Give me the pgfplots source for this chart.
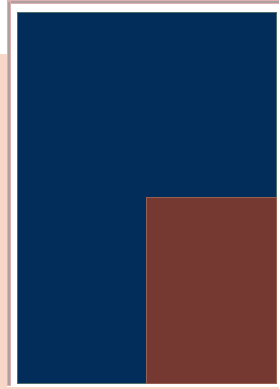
\documentclass[border=0pt]{standalone}
\usepackage{pgfplots}
\pgfplotsset{compat=1.18}
\definecolor{navy}{RGB}{2,45,90}
\definecolor{rust}{RGB}{118,57,49}
\definecolor{peach}{RGB}{248,214,200}
\definecolor{frame}{RGB}{172,160,160}
\definecolor{pinkedge}{RGB}{222,176,176}
\definecolor{navyedge}{RGB}{80,110,105}
\definecolor{rustedge}{RGB}{150,95,80}
\begin{document}
\begin{tikzpicture}
\begin{axis}[
  width=278bp, height=389bp, scale only axis,
  xmin=0, xmax=278, ymin=0, ymax=389, y dir=reverse,
  hide axis, enlargelimits=false, clip=true,
]
% left peach strip
\addplot[fill=peach, draw=none, mark=none] coordinates {(0,56) (7,56) (7,389) (0,389)} -- cycle;
% bottom peach strip
\addplot[fill=peach, draw=none, mark=none] coordinates {(7,387) (278,387) (278,389) (7,389)} -- cycle;
% white background
\addplot[fill=white, draw=none, mark=none] coordinates {(7,3) (278,3) (278,387) (7,387)} -- cycle;
% frame top line
\addplot[fill=pinkedge, draw=none, mark=none] coordinates {(7,2) (278,2) (278,6) (7,6)} -- cycle;
\addplot[fill=frame, draw=none, mark=none] coordinates {(8,3) (278,3) (278,5) (8,5)} -- cycle;
% frame left line
\addplot[fill=pinkedge, draw=none, mark=none] coordinates {(7,3) (11,3) (11,386) (7,386)} -- cycle;
\addplot[fill=frame, draw=none, mark=none] coordinates {(8,4) (10,4) (10,385) (8,385)} -- cycle;
% navy block
\addplot[fill=navy, draw=navyedge, line width=0.8bp, mark=none] coordinates {(17,14) (275,14) (275,383.5) (17,383.5)} -- cycle;
% rust block
\addplot[fill=rust, draw=rustedge, line width=0.8bp, mark=none] coordinates {(146,198) (275,198) (275,383.5) (146,383.5)} -- cycle;
\end{axis}
\end{tikzpicture}
\end{document}
